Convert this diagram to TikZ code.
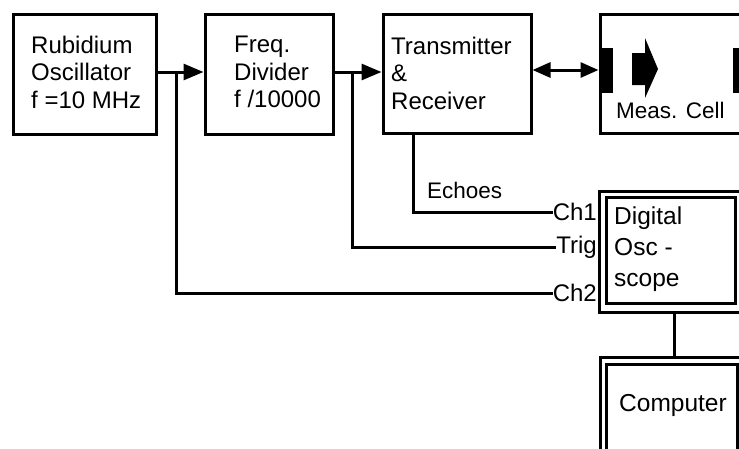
\documentclass[tikz,border=0pt]{standalone}
\usepackage{fontspec}
\setmainfont{Liberation Sans}
\usetikzlibrary{arrows.meta}
\begin{document}
\begin{tikzpicture}[x=1pt,y=-1pt,
  box/.style={draw,line width=3pt,rectangle,inner sep=0pt},
  txt/.style={anchor=west,align=left,inner sep=0pt,font=\fontsize{24}{27.5}\selectfont},
  lbl/.style={inner sep=0pt,font=\fontsize{24}{26}\selectfont},
  wire/.style={line width=3pt},
  arr/.style={wire,-{Triangle[length=20pt,width=16pt]}},
  darr/.style={wire,{Triangle[length=18pt,width=15pt]}-{Triangle[length=18pt,width=15pt]}},
  blk/.style={fill=black,draw=none}]
\useasboundingbox (0,0) rectangle (739,448);
\clip (0,0) rectangle (739,448);
% boxes
\node[box,minimum width=143pt,minimum height=120pt] (b1) at (84.5,74) {};
\node[box,minimum width=128pt,minimum height=120pt] (b2) at (269,74) {};
\node[box,minimum width=148pt,minimum height=119pt] (b3) at (457,73.5) {};
\node[box,minimum width=200pt,minimum height=119pt] (cell) at (700,73.5) {};
\node[txt] (t1) at (31,72) {Rubidium\\Oscillator\\f =10 MHz};
\node[txt] (t2) at (234,72) {Freq.\\Divider\\f /10000};
\node[txt] (t3) at (391,73) {Transmitter\\\&\\Receiver};
% measurement cell contents
\path[blk] (600,48) rectangle (613,93);
\path[blk] (733,48) rectangle (760,93);
\path[blk] (632,53) -- (645,53) -- (645,38) -- (658,69) -- (645,98) -- (645,85) -- (632,85) -- cycle;
\node[lbl,anchor=west,font=\fontsize{22.5}{26}\selectfont] (celltxt) at (616,110) {Meas. Cell};
% oscilloscope
\node[box,minimum width=170pt,minimum height=121pt] (oscout) at (684,251.5) {};
\node[box,minimum width=129pt,minimum height=106pt] (osc) at (670.5,250) {};
\node[txt,font=\fontsize{24.5}{31}\selectfont] (tosc) at (614,249) {Digital\\Osc -\\scope};
% computer
\node[box,minimum width=170pt,minimum height=120pt] (compout) at (685,417) {};
\node[box,minimum width=131pt,minimum height=110pt] (comp) at (671.5,419) {};
\node[lbl,font=\fontsize{24.5}{26}\selectfont] (tcomp) at (673,405) {Computer};
% channel labels
\node[lbl,anchor=east] (ch1) at (597,212) {Ch1};
\node[lbl,anchor=east] (trig) at (597,247) {Trig};
\node[lbl,anchor=east] (ch2) at (597,293) {Ch2};
\node[lbl,anchor=west,font=\fontsize{22.5}{26}\selectfont] (echo) at (427,190) {Echoes};
% junctions
\coordinate (j1) at (176,72);
\coordinate (j2) at (352,72);
\coordinate (e1) at (413,133);
% connectors
\draw[arr] (b1.east |- j1) -- (b2.west |- j1);
\draw[arr] (b2.east |- j2) -- (b3.west |- j2);
\draw[darr] (b3.east |- 0,70) -- (cell.west |- 0,70);
\draw[wire] (j1) |- (ch2.west);
\draw[wire] (j2) |- (trig.west);
\draw[wire] (e1) |- (ch1.west);
\draw[wire] (oscout.south -| 674,0) -- (compout.north -| 674,0);
\end{tikzpicture}
\end{document}
